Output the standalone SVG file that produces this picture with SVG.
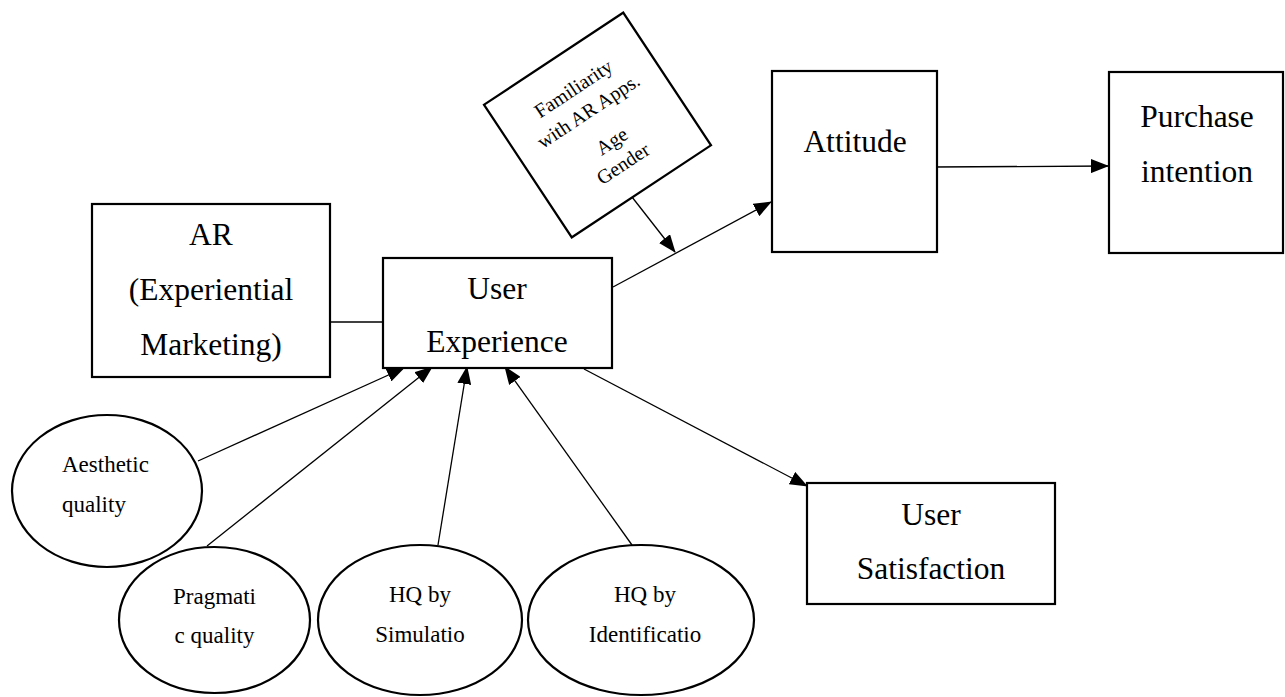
<svg xmlns="http://www.w3.org/2000/svg" width="1285" height="697" viewBox="0 0 1285 697">
<defs>
<style>
.box{fill:#fff;stroke:#000;stroke-width:2.2}
.ell{fill:#fff;stroke:#000;stroke-width:2.2}
.t{font-family:"Liberation Serif","Times New Roman",serif;fill:#000}
.big{font-size:31.5px;text-anchor:middle}
.mid{font-size:23px}
.small{font-size:20px;text-anchor:middle}
.c{stroke:#000;stroke-width:1.3;fill:none}
.a{marker-end:url(#arr)}
</style>
<marker id="arr" markerUnits="userSpaceOnUse" markerWidth="18" markerHeight="14" viewBox="0 0 18 14" refX="17" refY="7" orient="auto">
<path d="M0,0 L18,7 L0,14 Z" fill="#000"/>
</marker>
</defs>
<rect width="1285" height="697" fill="#fff"/>

<g id="connectors">
<line class="c" x1="330" y1="322" x2="383" y2="322"/>
<line class="c a" x1="613" y1="287" x2="771" y2="202"/>
<line class="c a" x1="632" y1="197" x2="675" y2="252"/>
<line class="c a" x1="933" y1="167" x2="1108" y2="166"/>
<line class="c a" x1="584" y1="369" x2="807" y2="486"/>
<line class="c a" x1="198" y1="461" x2="404" y2="368"/>
<line class="c a" x1="207" y1="546" x2="432" y2="367"/>
<line class="c a" x1="438" y1="545" x2="467" y2="367"/>
<line class="c a" x1="632" y1="545" x2="505" y2="367"/>
</g>

<g id="ar">
<rect class="box" x="92" y="204" width="238" height="173"/>
<text class="t big" x="211" y="245">AR</text>
<text class="t big" x="211" y="300">(Experiential</text>
<text class="t big" x="211" y="355">Marketing)</text>
</g>

<g id="user-experience">
<rect class="box" x="383" y="258" width="229" height="110"/>
<text class="t big" x="497" y="299">User</text>
<text class="t big" x="497" y="352">Experience</text>
</g>

<g id="moderators" transform="translate(597.5,125) rotate(-33.5)">
<rect class="box" x="-83.5" y="-79.5" width="167" height="159"/>
<text class="t small" x="0" y="-37">Familiarity</text>
<text class="t small" x="0" y="-10">with AR Apps.</text>
<text class="t small" x="3" y="28">Age</text>
<text class="t small" x="0" y="53">Gender</text>
</g>

<g id="attitude">
<rect class="box" x="772" y="71" width="165" height="181"/>
<text class="t big" x="855" y="152">Attitude</text>
</g>

<g id="purchase-intention">
<rect class="box" x="1109" y="72" width="174" height="181"/>
<text class="t big" x="1197" y="127">Purchase</text>
<text class="t big" x="1197" y="182">intention</text>
</g>

<g id="user-satisfaction">
<rect class="box" x="807" y="483" width="248" height="121"/>
<text class="t big" x="931" y="525">User</text>
<text class="t big" x="931" y="579">Satisfaction</text>
</g>

<g id="aesthetic">
<ellipse class="ell" cx="107" cy="491" rx="95" ry="76"/>
<text class="t mid" x="62" y="472">Aesthetic</text>
<text class="t mid" x="62" y="512">quality</text>
</g>

<g id="pragmatic">
<ellipse class="ell" cx="214.5" cy="620" rx="95.5" ry="73"/>
<text class="t mid" x="214.5" y="604" text-anchor="middle">Pragmati</text>
<text class="t mid" x="214.5" y="643" text-anchor="middle">c quality</text>
</g>

<g id="hq-simulation">
<ellipse class="ell" cx="420" cy="620" rx="102" ry="75"/>
<text class="t mid" x="420" y="602" text-anchor="middle">HQ by</text>
<text class="t mid" x="420" y="642" text-anchor="middle">Simulatio</text>
</g>

<g id="hq-identification">
<ellipse class="ell" cx="641" cy="620" rx="113" ry="75"/>
<text class="t mid" x="645" y="602" text-anchor="middle">HQ by</text>
<text class="t mid" x="645" y="642" text-anchor="middle">Identificatio</text>
</g>
</svg>
